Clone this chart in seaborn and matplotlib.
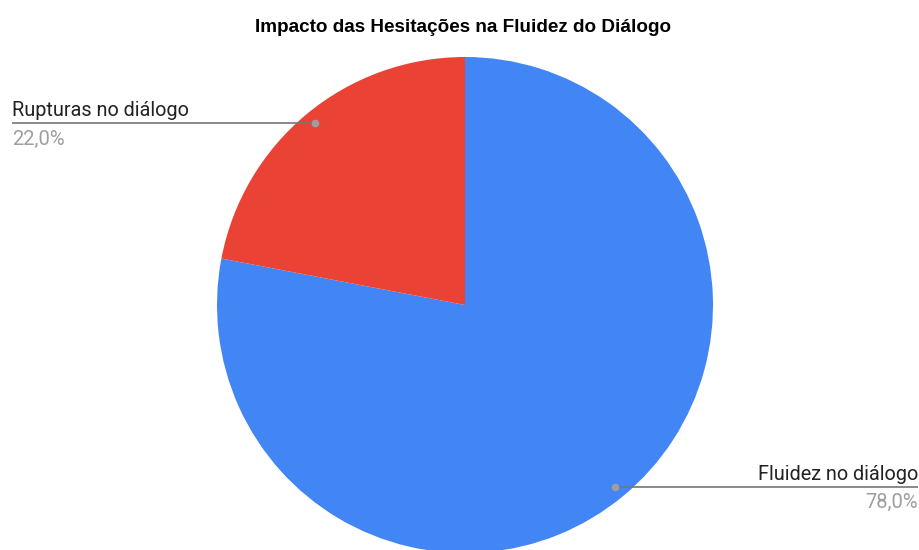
import numpy as np
import matplotlib
matplotlib.use('Agg')
import matplotlib.pyplot as plt
import seaborn as sns

labels = ['Fluidez no diálogo', 'Rupturas no diálogo']
values = [78.0, 22.0]
colors = ['#4285F4', '#EA4335']

sns.set_theme(style='white')
plt.rcParams['font.family'] = ['Roboto', 'DejaVu Sans']

fig = plt.figure(figsize=(9.2, 5.5), dpi=100)
ax = fig.add_axes([0, 0, 1, 1])

# pie placed in pixel-like coordinates (y up)
cx, cy, r = 465, 245, 248
wedges, _ = ax.pie(values, colors=colors, startangle=90, counterclock=False,
                   center=(cx, cy), radius=r, frame=True,
                   wedgeprops=dict(linewidth=0))
ax.set_xlim(0, 920)
ax.set_ylim(0, 550)
ax.set_aspect('equal')
ax.axis('off')

# labels with leader lines at the middle of each slice
for w, lab, v in zip(wedges, labels, values):
    ang = np.deg2rad((w.theta1 + w.theta2) / 2)
    px = cx + 0.95 * r * np.cos(ang)
    py = cy + 0.95 * r * np.sin(ang)
    if px < cx:
        xend, ha = 12, 'left'
    else:
        xend, ha = 918, 'right'
    ax.plot([px, xend], [py, py], color='#757575', lw=1.2, solid_capstyle='butt')
    ax.plot(px, py, 'o', color='#9e9e9e', ms=4.5)
    ax.text(xend, py + 7, lab, ha=ha, va='baseline', fontsize=14.3, color='#222222')
    ax.text(xend, py - 6, f'{v:.1f}%'.replace('.', ','), ha=ha, va='top',
            fontsize=14.5, color='#9e9e9e')

ax.text(463, 523, 'Impacto das Hesitações na Fluidez do Diálogo', ha='center',
        va='center', fontsize=13.6, fontweight='bold', color='#000000',
        family=['Liberation Sans', 'DejaVu Sans'])

fig.savefig('out.png', dpi=100)
